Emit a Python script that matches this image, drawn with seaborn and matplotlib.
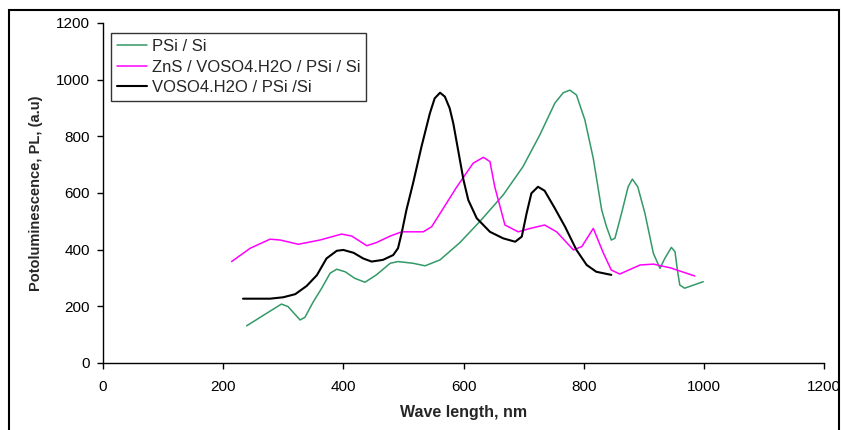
import pandas as pd
import seaborn as sns
import matplotlib
import matplotlib.pyplot as plt
from matplotlib.patches import Rectangle

matplotlib.use('Agg')
sns.set_style("ticks")
plt.rcParams['font.family'] = ['Liberation Sans', 'DejaVu Sans']

# PSi / Si
psi_x = [239, 272, 297, 308, 328, 336, 350, 364, 378, 389, 403, 419, 436, 455, 478, 491,
         516, 536, 561, 594, 627, 666, 699, 727, 752, 766, 777, 788, 802, 816, 830, 838,
         846, 852, 863, 874, 881, 890, 902, 916, 927, 935, 946, 952, 956, 960, 968, 999]
psi_y = [131, 175, 208, 199, 152, 161, 216, 264, 317, 331, 322, 299, 285, 311, 352, 358,
         352, 343, 364, 425, 499, 593, 693, 805, 917, 954, 963, 946, 858, 722, 540, 481,
         434, 440, 528, 622, 649, 622, 528, 387, 334, 369, 408, 393, 328, 275, 264, 287]

# ZnS / VOSO4.H2O / PSi / Si
zns_x = [214, 245, 278, 295, 325, 361, 397, 414, 439, 455, 478, 497, 533, 547, 561, 589,
         616, 633, 644, 652, 669, 691, 711, 735, 755, 783, 797, 816, 833, 846, 860, 894,
         916, 944, 985]
zns_y = [358, 405, 437, 434, 419, 434, 455, 448, 414, 425, 448, 463, 463, 481, 528, 622,
         705, 726, 711, 622, 487, 463, 475, 487, 463, 399, 411, 475, 387, 328, 314, 346,
         349, 336, 307]

# VOSO4.H2O / PSi /Si
vo_x = [233, 278, 300, 320, 339, 356, 372, 389, 400, 417, 433, 447, 466, 483, 491, 497,
        505, 516, 530, 544, 552, 561, 569, 577, 583, 591, 600, 608, 622, 644, 666, 686,
        697, 705, 713, 724, 735, 752, 769, 788, 805, 821, 846]
vo_y = [227, 227, 232, 243, 272, 310, 369, 396, 399, 389, 369, 358, 364, 381, 405, 458,
        540, 634, 763, 881, 934, 954, 940, 899, 846, 752, 646, 575, 511, 463, 440, 428,
        446, 528, 599, 622, 608, 546, 481, 399, 346, 322, 311]

series = [
    ("PSi / Si", psi_x, psi_y, "#339966", 1.1),
    ("ZnS / VOSO4.H2O / PSi / Si", zns_x, zns_y, "#FF00FF", 1.1),
    ("VOSO4.H2O / PSi /Si", vo_x, vo_y, "#000000", 1.5),
]

fig = plt.figure(figsize=(8.43, 4.30), dpi=100)
ax = fig.add_axes([103 / 843, 1 - 363 / 430, 721 / 843, 340 / 430])

for name, xs, ys, color, lw in series:
    df = pd.DataFrame({"x": xs, "y": ys})
    sns.lineplot(data=df, x="x", y="y", color=color, linewidth=lw, label=name, ax=ax)

ax.set_xlim(0, 1200)
ax.set_ylim(0, 1200)
ax.set_xticks(range(0, 1201, 200))
ax.set_yticks(range(0, 1201, 200))
ax.tick_params(axis='both', labelsize=11, direction='out', length=4.5, width=1, colors='black')
ax.tick_params(axis='x', pad=8)
ax.tick_params(axis='y', pad=5)
sns.despine(ax=ax)
for sp in ['left', 'bottom']:
    ax.spines[sp].set_color('black')
    ax.spines[sp].set_linewidth(1)

ax.set_xlabel("Wave length, nm", fontsize=11.5, fontweight='bold', labelpad=8)
ax.set_ylabel("Potoluminescence, PL, (a.u)", fontsize=10.5, fontweight='bold', labelpad=9)

leg = ax.legend(loc='upper left', bbox_to_anchor=(0.0107, 0.970), borderaxespad=0,
                fontsize=12, frameon=True, fancybox=False, handlelength=1.8,
                handletextpad=0.3, labelspacing=0.33, borderpad=0.35)
leg.get_frame().set_edgecolor('black')
leg.get_frame().set_linewidth(1)

fig.patches.append(Rectangle((9 / 843, -0.1), 830 / 843, 1.1 - 10 / 430,
                             transform=fig.transFigure, fill=False,
                             edgecolor='black', linewidth=1.5))

plt.savefig("out.png", dpi=100)
plt.close()
